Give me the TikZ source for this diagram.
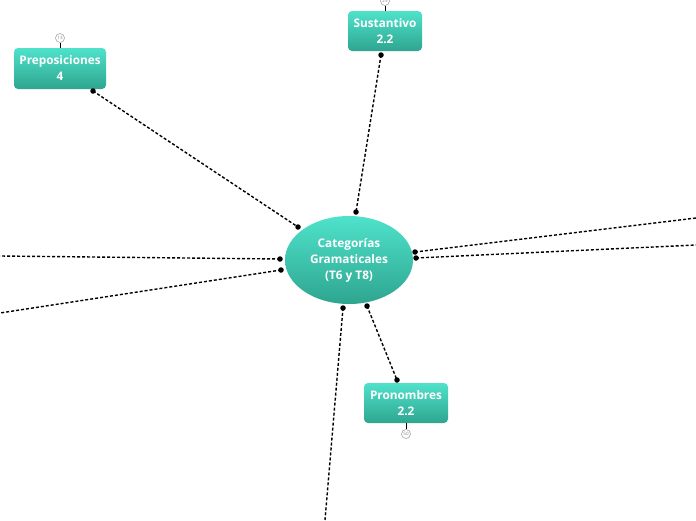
\documentclass[tikz,border=0pt]{standalone}
\usepackage{fontspec}
\setmainfont{Open Sans}
\usetikzlibrary{shapes.geometric}
\definecolor{tealtop}{HTML}{4FE2CB}
\definecolor{tealbot}{HTML}{2EA58F}
\tikzset{
  topicbox/.style={rounded corners=4pt, top color=tealtop, bottom color=tealbot, draw=none,
    text=white, font=\bfseries\fontsize{11.8}{16}\selectfont, align=center, inner sep=0pt},
  central/.style={ellipse, top color=tealtop, bottom color=tealbot, draw=none,
    text=white, font=\bfseries\fontsize{11.8}{16}\selectfont, align=center,
    minimum width=128pt, minimum height=88pt, inner sep=0pt},
  conn/.style={line width=1.4pt, dash pattern=on 3pt off 2pt, black},
  enddot/.style={circle, fill=black, inner sep=0pt, minimum size=5.5pt},
  counter/.style={circle, draw=gray!80, fill=white, line width=0.5pt, inner sep=0pt,
    minimum size=9pt, font=\fontsize{4.5}{4.5}\selectfont, text=gray},
  stem/.style={line width=0.8pt, black}
}
\begin{document}
\begin{tikzpicture}[x=1pt,y=-1pt]
\useasboundingbox (0,0) rectangle (696,520);
\fill[white] (0,0) rectangle (696,520);

% connector end points
\coordinate (p1) at (93,91);   \coordinate (c1) at (298,227);
\coordinate (s1) at (381,55);  \coordinate (c2) at (356,212);
\coordinate (c3) at (415,252); \coordinate (r1) at (696,218);
\coordinate (c4) at (416,258); \coordinate (r2) at (696,245);
\coordinate (c5) at (280,259); \coordinate (l1) at (0,256);
\coordinate (c6) at (281,270); \coordinate (l2) at (0,313);
\coordinate (c7) at (343,308); \coordinate (d1) at (325,520);
\coordinate (c8) at (367,306); \coordinate (n1) at (397,380);

\draw[conn] (p1) -- (c1);
\draw[conn] (s1) -- (c2);
\draw[conn] (c3) -- (r1);
\draw[conn] (c4) -- (r2);
\draw[conn] (c5) -- (l1);
\draw[conn] (c6) -- (l2);
\draw[conn] (c7) -- (d1);
\draw[conn] (c8) -- (n1);

% central topic
\node[central] (cat) at (349,260) {Categorías\\Gramaticales\\(T6 y T8)};

% boxes
\node[topicbox, minimum width=92pt, minimum height=41pt] (prep) at (60,68.5) {Preposiciones\\4};
\node[topicbox, minimum width=74pt, minimum height=40pt] (sust) at (385,31) {Sustantivo\\2.2};
\node[topicbox, minimum width=84pt, minimum height=40pt] (pron) at (406,403) {Pronombres\\2.2};

% counters
\node[counter] (cp) at (60,38) {13};
\draw[stem] (cp.south) -- (prep.north);
\node[counter] (cs) at (385,1) {25};
\draw[stem] (cs.south) -- (sust.north);
\node[counter] (cn) at (406,434) {50};
\draw[stem] (pron.south) -- (cn.north);

% end dots
\foreach \p in {p1,c1,s1,c2,c3,c4,c5,c6,c7,c8,n1}
  \node[enddot] at (\p) {};
\end{tikzpicture}
\end{document}
